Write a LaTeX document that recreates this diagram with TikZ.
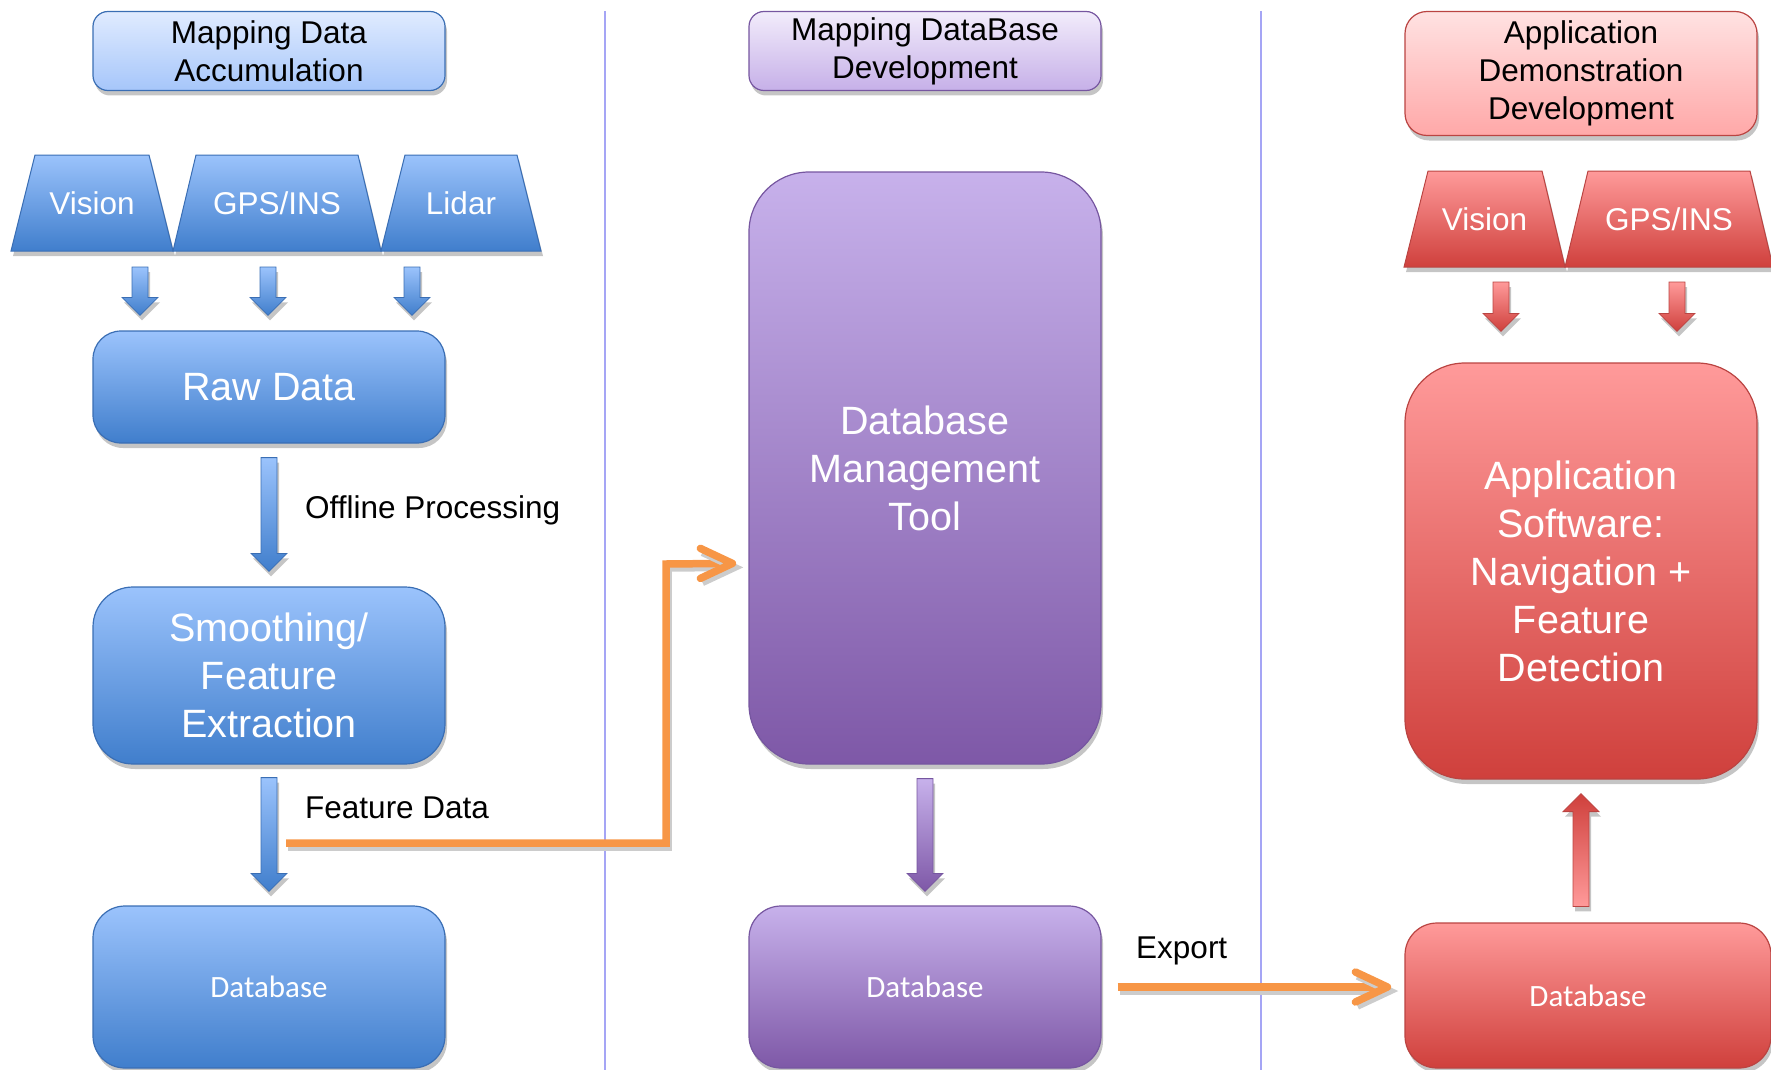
\documentclass[tikz,border=0pt]{standalone}
\usepackage{fontspec}
\setmainfont{Liberation Sans}
\newfontfamily\carlitofam{Carlito}
\usetikzlibrary{calc,shadows}
\definecolor{bTop}{RGB}{155,195,252}
\definecolor{bBot}{RGB}{64,126,204}
\definecolor{bLine}{RGB}{58,110,180}
\definecolor{bhTop}{RGB}{224,235,255}
\definecolor{bhBot}{RGB}{166,198,250}
\definecolor{pTop}{RGB}{199,177,235}
\definecolor{pBot}{RGB}{126,88,167}
\definecolor{pLine}{RGB}{118,86,160}
\definecolor{phTop}{RGB}{242,236,251}
\definecolor{phBot}{RGB}{198,176,232}
\definecolor{rTop}{RGB}{255,154,154}
\definecolor{rBot}{RGB}{207,64,60}
\definecolor{rLine}{RGB}{186,68,66}
\definecolor{rhTop}{RGB}{255,226,226}
\definecolor{rhBot}{RGB}{255,168,168}
\definecolor{orng}{RGB}{247,150,70}
\definecolor{sepc}{RGB}{165,165,245}
\newcommand\hdrfont{\fontsize{31.5}{38}\selectfont}
\newcommand\bigfont{\fontsize{39.5}{48}\selectfont}
\newcommand\dbfont{\carlitofam\fontsize{31}{37}\selectfont}
\newcommand\blkdown[3]{\path[#3] let \p1=(#1), \p2=(#2) in
  (\x1-8pt,\y1) -- (\x1+8pt,\y1) -- (\x1+8pt,\y2+18pt) -- (\x1+18pt,\y2+18pt) -- (\x1,\y2)
  -- (\x1-18pt,\y2+18pt) -- (\x1-8pt,\y2+18pt) -- cycle;}
\newcommand\blkup[3]{\path[#3] let \p1=(#1), \p2=(#2) in
  (\x1-8pt,\y1) -- (\x1+8pt,\y1) -- (\x1+8pt,\y2-18pt) -- (\x1+18pt,\y2-18pt) -- (\x1,\y2)
  -- (\x1-18pt,\y2-18pt) -- (\x1-8pt,\y2-18pt) -- cycle;}
\tikzset{
  shdw/.style={drop shadow={shadow xshift=2pt,shadow yshift=-5pt,fill=black!45,opacity=.5}},
  boxbase/.style={draw, line width=1.2pt, minimum width=352pt, inner sep=0pt, align=center, shdw},
  hdr/.style={boxbase, font=\hdrfont, text=black, rounded corners=15pt},
  bluebox/.style={boxbase, draw=bLine, top color=bTop, bottom color=bBot, text=white},
  purpbox/.style={boxbase, draw=pLine, top color=pTop, bottom color=pBot, text=white},
  redbox/.style={boxbase, draw=rLine, top color=rTop, bottom color=rBot, text=white},
  trapB/.style={draw=bLine, line width=1pt, top color=bTop, bottom color=bBot, shdw},
  trapR/.style={draw=rLine, line width=1pt, top color=rTop, bottom color=rBot, shdw},
  traptxt/.style={text=white, font=\hdrfont, inner sep=0pt},
  barB/.style={draw=bLine, line width=0.8pt, top color=bTop, bottom color=bBot, shdw},
  barP/.style={draw=pLine, line width=0.8pt, top color=pTop, bottom color=pBot, shdw},
  barR/.style={draw=rLine, line width=0.8pt, top color=rTop, bottom color=rBot, shdw},
  barRup/.style={draw=rLine, line width=0.8pt, top color=rBot, bottom color=rTop, shdw},
  lbl/.style={font=\hdrfont, text=black, inner sep=0pt, anchor=west},
  oline/.style={draw=orng, line width=7.5pt,
     preaction={draw=black!20, line width=7.5pt, transform canvas={xshift=2pt,yshift=-4pt}}},
  ohead/.style={oline, line cap=round, line join=round},
  sepline/.style={draw=sepc, line width=1.4pt}
}
\begin{document}
\begin{tikzpicture}[x=1pt,y=-1pt]
\useasboundingbox (0,0) rectangle (1771,1070);
% separators
\draw[sepline] (605,11) -- (605,1070);
\draw[sepline] (1261,11) -- (1261,1070);

% headers
\node[hdr, draw=bLine, top color=bhTop, bottom color=bhBot, minimum height=79pt] (h1) at (269,51) {Mapping Data\\Accumulation};
\node[hdr, draw=pLine, top color=phTop, bottom color=phBot, minimum height=79pt] (h2) at (925,51) {Mapping DataBase\\Development};
\node[hdr, draw=rLine, top color=rhTop, bottom color=rhBot, minimum height=124pt, rounded corners=22pt] (h3) at (1581,73.5) {Application\\Demonstration\\Development};

% blue trapezoids
\path[trapB] (11,251) -- (35,155) -- (149,155) -- (173,251) -- cycle;
\path[trapB] (173,251) -- (196,155) -- (358,155) -- (381,251) -- cycle;
\path[trapB] (381,251) -- (405,155) -- (517,155) -- (541,251) -- cycle;
\node[traptxt] (tv) at (92,203) {Vision};
\node[traptxt] (tg) at (277,203) {GPS/INS};
\node[traptxt] (tl) at (461,203) {Lidar};

% red trapezoids
\path[trapR] (1404,267) -- (1428,171) -- (1542,171) -- (1565,267) -- cycle;
\path[trapR] (1565,267) -- (1588,171) -- (1750,171) -- (1773,267) -- cycle;
\node[traptxt] (rv) at (1484.5,219) {Vision};
\node[traptxt] (rg) at (1669,219) {GPS/INS};

% left column boxes
\node[bluebox, rounded corners=28pt, minimum height=112pt, font=\bigfont] (raw) at (269,387) {Raw Data};
\node[bluebox, rounded corners=40pt, minimum height=177pt, font=\bigfont] (smooth) at (269,675.5) {Smoothing/\\Feature\\Extraction};
\node[bluebox, rounded corners=32pt, minimum height=162pt, font=\dbfont] (dbA) at (269,987) {Database};

% middle column
\node[purpbox, rounded corners=60pt, minimum height=592pt, font=\bigfont] (dmt) at (925,468) {Database\\Management\\Tool};
\node[purpbox, rounded corners=32pt, minimum height=162pt, font=\dbfont] (dbB) at (925,987) {Database};

% right column
\node[redbox, rounded corners=60pt, minimum height=416pt, font=\bigfont] (app) at (1581,571) {Application\\Software:\\Navigation +\\Feature\\Detection};
\node[redbox, rounded corners=32pt, minimum width=366pt, minimum height=145pt, font=\dbfont] (dbC) at (1588,995.5) {Database};

% sensor arrows (blue)
\coordinate (a1) at (140,267);
\coordinate (a2) at (268,267);
\coordinate (a3) at (412,267);
\blkdown{a1}{$(a1 |- raw.north)+(0,-15)$}{barB}
\blkdown{a2}{$(a2 |- raw.north)+(0,-15)$}{barB}
\blkdown{a3}{$(a3 |- raw.north)+(0,-15)$}{barB}

% processing arrows
\blkdown{$(raw.south)+(0,14)$}{$(smooth.north)+(0,-15)$}{barB}
\blkdown{$(smooth.south)+(0,13)$}{$(dbA.north)+(0,-14)$}{barB}
\blkdown{$(dmt.south)+(0,14)$}{$(dbB.north)+(0,-14)$}{barP}

% red sensor arrows
\coordinate (r1) at (1501,282);
\coordinate (r2) at (1677,282);
\blkdown{r1}{$(r1 |- app.north)+(0,-31)$}{barR}
\blkdown{r2}{$(r2 |- app.north)+(0,-31)$}{barR}
\blkup{$(dbC.north -| app.south)+(0,-16)$}{$(app.south)+(0,14)$}{barRup}

% labels
\node[lbl] (lop) at (305,510) {Offline Processing};
\node[lbl] (lfd) at (305,808) {Feature Data};
\node[lbl] (lex) at (1136,951) {Export};

% orange connectors
\coordinate (fdA) at (286,843);
\coordinate (fdT) at ($(dmt.north west)+(-16,392)$);
\draw[oline] (fdA) -- (666,843) -- (666,564) -- ($(fdT)+(-4,0)$);
\draw[ohead] ($(fdT)+(-32,-15)$) -- (fdT) -- ($(fdT)+(-32,15)$);

\coordinate (exA) at ($(dbB.east)+(16,0)$);
\coordinate (exT) at ($(dbC.west |- dbB.east)+(-17,0)$);
\draw[oline] (exA) -- ($(exT)+(-4,0)$);
\draw[ohead] ($(exT)+(-32,-15)$) -- (exT) -- ($(exT)+(-32,15)$);
\end{tikzpicture}
\end{document}
